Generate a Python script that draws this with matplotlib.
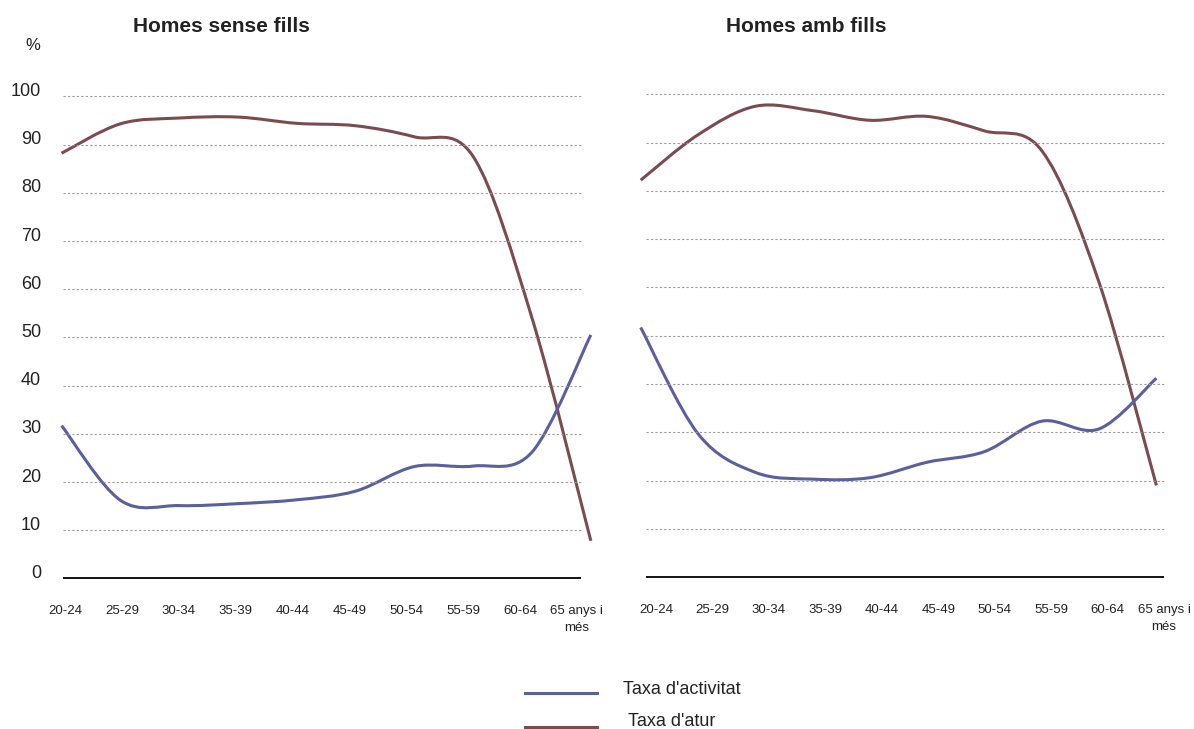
# -*- coding: utf-8 -*-

import numpy as np
import matplotlib
matplotlib.use('Agg')
import matplotlib.pyplot as plt
from matplotlib.path import Path
from matplotlib.patches import PathPatch
from matplotlib.lines import Line2D
from matplotlib.transforms import ScaledTranslation

# Data
age_groups = ['20-24', '25-29', '30-34', '35-39', '40-44', '45-49', '50-54',
              '55-59', '60-64', '65 anys i\nmés']
activitat_sense_fills = [31.7, 16.2, 15.1, 15.5, 16.3, 18.1, 23.2, 23.3, 26.2, 50.5]
atur_sense_fills = [88.2, 94.3, 95.5, 95.7, 94.4, 93.9, 91.6, 87.5, 54.0, 7.8]
activitat_amb_fills = [51.7, 29.7, 21.7, 20.3, 20.6, 23.8, 26.0, 32.3, 30.7, 41.2]
atur_amb_fills = [82.2, 91.6, 97.5, 96.6, 94.6, 95.4, 92.4, 88.3, 61.0, 19.0]
y_ticks = list(range(0, 101, 10))

BLUE = '#5b5f9c'
BROWN = '#7a4b50'
TEXT = '#222222'

plt.rcParams['font.family'] = ['Liberation Sans', 'DejaVu Sans']


def smooth_path(x, y):
    """Smoothed line through the points (Catmull-Rom as cubic Bezier)"""
    n = len(x)
    verts = [(x[0], y[0])]
    codes = [Path.MOVETO]
    for i in range(n - 1):
        i0 = i - 1 if i > 0 else i
        i3 = i + 2 if i + 2 < n else i + 1
        c1 = (x[i] + (x[i + 1] - x[i0]) / 6, y[i] + (y[i + 1] - y[i0]) / 6)
        c2 = (x[i + 1] - (x[i3] - x[i]) / 6, y[i + 1] - (y[i3] - y[i]) / 6)
        verts += [c1, c2, (x[i + 1], y[i + 1])]
        codes += [Path.CURVE4] * 3
    return Path(verts, codes)


def make_panel(ax, activitat, atur, tick_offset, tick_step, base_range, show_y):
    x = np.arange(len(age_groups))

    # Grid and base line
    for val in y_ticks[1:]:
        ax.hlines(val, base_range[0], base_range[1], colors='#9a9a9a',
                  linestyles=(0, (2, 2)), linewidth=0.8)
    ax.hlines(0, base_range[0], base_range[1], colors='black', linewidth=1.3)

    # Series
    for values, color in ((atur, BROWN), (activitat, BLUE)):
        patch = PathPatch(smooth_path(x, values), facecolor='none',
                          edgecolor=color, linewidth=2.2, capstyle='butt')
        ax.add_patch(patch)

    # Formatting
    for side in ax.spines.values():
        side.set_visible(False)
    ax.set_xticks(tick_offset + tick_step * x)
    ax.set_xticklabels(age_groups, fontsize=9.5, color=TEXT, linespacing=1.55)
    ax.tick_params(axis='x', length=0, pad=9)
    if show_y:
        ax.set_yticks(y_ticks)
        ax.set_yticklabels([str(v) for v in y_ticks], fontsize=13, color=TEXT)
        ax.tick_params(axis='y', length=0, pad=2)
        shift = ScaledTranslation(0, 5 / 72, ax.figure.dpi_scale_trans)
        for label in ax.get_yticklabels():
            label.set_transform(label.get_transform() + shift)
    else:
        ax.set_yticks([])
    ax.set_facecolor('none')


fig = plt.figure(figsize=(11.94, 7.29), dpi=100)

ax1 = fig.add_axes([0.0368, 0.1868, 0.4728, 0.7141])
ax1.set_xlim(-0.3, 9.3)
ax1.set_ylim(-3, 105)
make_panel(ax1, activitat_sense_fills, atur_sense_fills, 0.06, 0.967, (0.02, 8.83), True)

ax2 = fig.add_axes([0.5222, 0.1884, 0.4703, 0.7155])
ax2.set_xlim(-0.3, 9.5)
ax2.set_ylim(-3, 105)
make_panel(ax2, activitat_amb_fills, atur_amb_fills, 0.267, 0.985, (0.09, 9.13), False)

# Titles
fig.text(221 / 1194, 1 - 27 / 729, 'Homes sense fills', ha='center', va='center',
         fontsize=15, fontweight='bold', color=TEXT)
fig.text(806 / 1194, 1 - 27 / 729, 'Homes amb fills', ha='center', va='center',
         fontsize=15, fontweight='bold', color=TEXT)
fig.text(33 / 1194, 1 - 45 / 729, '%', ha='center', va='center', fontsize=12, color=TEXT)

# Legend
legend_items = [("Taxa d'activitat", BLUE, 693, 623, 689), ("Taxa d'atur", BROWN, 727, 628, 722)]
for label, color, ly, tx, ty in legend_items:
    fig.add_artist(Line2D([525 / 1194, 597 / 1194], [1 - ly / 729, 1 - ly / 729],
                          color=color, linewidth=2.2, transform=fig.transFigure))
    fig.text(tx / 1194, 1 - ty / 729, label, ha='left', va='center', fontsize=13, color=TEXT)

fig.savefig('out.png', dpi=100)
